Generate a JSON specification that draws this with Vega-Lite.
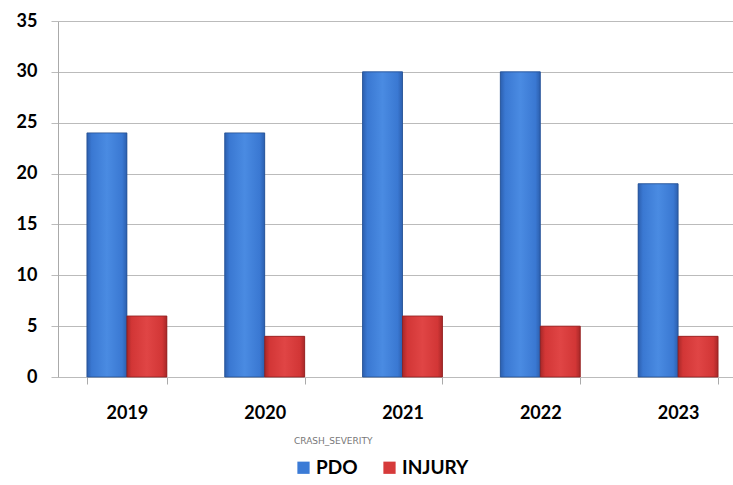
{
  "$schema": "https://vega.github.io/schema/vega-lite/v6.json",
  "width": 675,
  "height": 356,
  "autosize": {"type": "none"},
  "padding": {"left": 58, "top": 21, "right": 0, "bottom": 108},
  "background": "white",
  "config": {
    "view": {"stroke": null},
    "font": "Lato"
  },
  "data": {
    "values": [
      {"year": "2019", "severity": "PDO", "count": 24},
      {"year": "2019", "severity": "INJURY", "count": 6},
      {"year": "2020", "severity": "PDO", "count": 24},
      {"year": "2020", "severity": "INJURY", "count": 4},
      {"year": "2021", "severity": "PDO", "count": 30},
      {"year": "2021", "severity": "INJURY", "count": 6},
      {"year": "2022", "severity": "PDO", "count": 30},
      {"year": "2022", "severity": "INJURY", "count": 5},
      {"year": "2023", "severity": "PDO", "count": 19},
      {"year": "2023", "severity": "INJURY", "count": 4}
    ]
  },
  "encoding": {
    "x": {
      "field": "year", "type": "nominal",
      "scale": {"paddingInner": 0.42, "paddingOuter": 0.21, "range": [0, 689]},
      "axis": {
        "title": null, "labelAngle": 0, "tickBand": "extent",
        "labelFont": "Lato", "labelFontWeight": "bold", "labelFontSize": 18, "labelColor": "#000",
        "labelPadding": 20, "tickSize": 7, "tickColor": "#AAAAAA", "domainColor": "#BBBBBB", "grid": false
      }
    },
    "xOffset": {"field": "severity", "type": "nominal", "sort": ["PDO", "INJURY"], "scale": {"paddingInner": 0, "paddingOuter": 0}},
    "y": {
      "field": "count", "type": "quantitative",
      "scale": {"domain": [0, 35]},
      "axis": {
        "title": null, "values": [0, 5, 10, 15, 20, 25, 30, 35],
        "labelFont": "Lato", "labelFontWeight": "bold", "labelFontSize": 18, "labelColor": "#000",
        "labelPadding": 14, "tickSize": 7, "tickColor": "#BBBBBB", "domainColor": "#AAAAAA",
        "gridColor": "#BBBBBB", "gridWidth": 1
      }
    }
  },
  "layer": [
    {
      "mark": {"type": "bar"},
      "encoding": {
        "color": {
          "field": "severity", "type": "nominal",
          "sort": ["PDO", "INJURY"],
          "scale": {"domain": ["PDO", "INJURY"], "range": ["#3B7BD6", "#D63A3A"]},
          "legend": {
            "title": "CRASH_SEVERITY", "orient": "none", "direction": "horizontal",
            "legendX": 236, "legendY": 416,
            "titleFont": "DejaVu Sans", "titleFontSize": 9, "titleFontWeight": "normal", "titleColor": "#777777",
            "titlePadding": 12,
            "labelFont": "Lato", "labelFontSize": 19, "labelFontWeight": "bold", "labelColor": "#000",
            "symbolType": "square", "symbolSize": 150, "symbolStrokeWidth": 0,
            "labelOffset": 3, "columnPadding": 22, "padding": 0
          }
        }
      }
    },
    {
      "mark": {"type": "bar", "strokeWidth": 0.8},
      "encoding": {
        "fill": {
          "condition": {
            "test": "datum.severity === 'PDO'",
            "value": {"gradient": "linear", "x1": 0, "x2": 1, "y1": 0, "y2": 0,
              "stops": [
                {"offset": 0, "color": "#2C5FAE"},
                {"offset": 0.12, "color": "#3A78D2"},
                {"offset": 0.5, "color": "#4A8BE2"},
                {"offset": 0.88, "color": "#3A78D2"},
                {"offset": 1, "color": "#2C5FAE"}
              ]}
          },
          "value": {"gradient": "linear", "x1": 0, "x2": 1, "y1": 0, "y2": 0,
            "stops": [
              {"offset": 0, "color": "#A82828"},
              {"offset": 0.12, "color": "#D23636"},
              {"offset": 0.5, "color": "#E04545"},
              {"offset": 0.88, "color": "#D23636"},
              {"offset": 1, "color": "#A82828"}
            ]}
        },
        "stroke": {
          "condition": {"test": "datum.severity === 'PDO'", "value": "#244F90"},
          "value": "#8E2020"
        }
      }
    }
  ]
}
